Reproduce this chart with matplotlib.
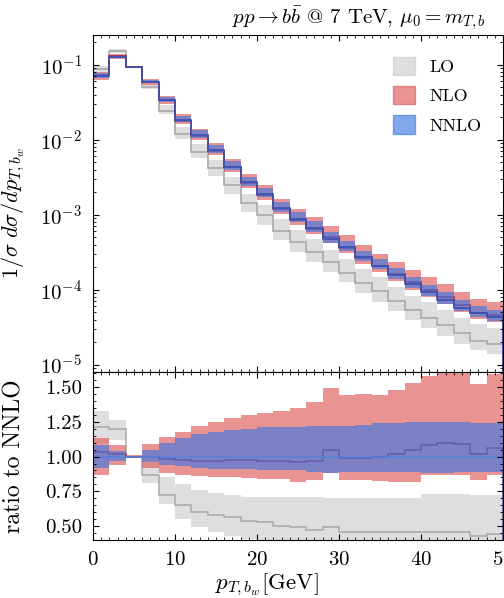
import numpy as np
import matplotlib
matplotlib.use("Agg")
import matplotlib.pyplot as plt
from matplotlib.patches import Patch
from matplotlib.ticker import MultipleLocator, LogLocator, NullFormatter

plt.rcParams['font.family'] = 'serif'
plt.rcParams['font.serif'] = ['cmr10', 'DejaVu Serif']
plt.rcParams['mathtext.fontset'] = 'cm'
plt.rcParams['axes.formatter.use_mathtext'] = True

# p_T bins of the b-jet, 2 GeV wide
edges = np.arange(0, 52, 2)

# NNLO normalised distribution 1/sigma dsigma/dpT
nnlo = [0.072, 0.128, 0.094, 0.059, 0.034, 0.0185, 0.0116, 0.0073, 0.0044,
        0.0027, 0.0019, 0.00123, 0.00089, 0.00067, 0.00048, 0.00037, 0.00027,
        0.00021, 0.000158, 0.000120, 0.000093, 0.000074, 0.000058, 0.000049,
        0.000043]

# ratios to NNLO central: central, upper, lower scale variation
lo_c = [1.21, 1.20, 1.00, 0.87, 0.72, 0.65, 0.60, 0.58, 0.565, 0.54, 0.53,
        0.50, 0.49, 0.475, 0.49, 0.46, 0.46, 0.455, 0.455, 0.455, 0.46, 0.46,
        0.455, 0.43, 0.44]
lo_hi = [1.33, 1.26, 1.005, 0.955, 0.85, 0.80, 0.76, 0.735, 0.72, 0.71, 0.71,
         0.71, 0.71, 0.71, 0.70, 0.70, 0.70, 0.70, 0.70, 0.70, 0.73, 0.73,
         0.73, 0.72, 0.72]
lo_lo = [1.10, 1.12, 0.995, 0.81, 0.66, 0.55, 0.49, 0.455, 0.43, 0.41, 0.39,
         0.37, 0.36, 0.35, 0.36, 0.34, 0.34, 0.33, 0.33, 0.33, 0.33, 0.33,
         0.33, 0.32, 0.32]

nlo_c = [1.03, 1.02, 1.00, 0.995, 0.985, 0.975, 0.97, 0.97, 0.975, 0.975,
         0.97, 0.965, 0.96, 0.97, 1.045, 0.99, 0.99, 0.995, 1.015, 1.05, 1.08,
         1.10, 1.09, 1.015, 1.065]
nlo_hi = [1.13, 1.08, 1.01, 1.09, 1.14, 1.18, 1.22, 1.25, 1.28, 1.30, 1.31,
          1.33, 1.35, 1.39, 1.49, 1.44, 1.45, 1.44, 1.48, 1.53, 1.58, 1.63,
          1.61, 1.52, 1.59]
nlo_lo = [0.87, 0.94, 0.99, 0.92, 0.88, 0.87, 0.86, 0.855, 0.85, 0.845,
          0.84, 0.835, 0.82, 0.83, 0.88, 0.83, 0.83, 0.825, 0.82, 0.82, 0.87,
          0.87, 0.87, 0.83, 0.87]

nnlo_hi = [1.08, 1.04, 1.005, 1.05, 1.10, 1.13, 1.16, 1.18, 1.19, 1.20, 1.21,
           1.21, 1.21, 1.22, 1.22, 1.22, 1.23, 1.24, 1.24, 1.25, 1.25, 1.25,
           1.25, 1.24, 1.24]
nnlo_lo = [0.92, 0.97, 0.995, 0.96, 0.94, 0.93, 0.92, 0.91, 0.91, 0.91, 0.90,
           0.90, 0.90, 0.89, 0.88, 0.89, 0.89, 0.89, 0.89, 0.89, 0.88, 0.88,
           0.89, 0.89, 0.89]

c_lo, c_nlo, c_nnlo = '#c8c8c8', '#e05a5a', '#4078e0'
a_lo, a_nlo, a_nnlo = 0.6, 0.65, 0.65
l_lo, l_nlo, l_nnlo = '#a8a8a8', '#9c2a4a', '#3a50b0'

fig = plt.figure(figsize=(5.04, 5.98), dpi=100)
ax = fig.add_axes([0.1845, 0.3784, 0.8135, 0.5631])
rax = fig.add_axes([0.1845, 0.097, 0.8135, 0.2814], sharex=ax)

ref = np.array(nnlo)
bands = [(lo_lo, lo_hi, lo_c, c_lo, a_lo, l_lo, l_lo),
         (nlo_lo, nlo_hi, nlo_c, c_nlo, a_nlo, l_nlo, l_nlo),
         (nnlo_lo, nnlo_hi, np.ones(len(ref)), c_nnlo, a_nnlo, l_nnlo, '#5a7fd8')]

for lo, hi, c, col, a, lcol, rcol in bands:
    lo, hi, c = np.array(lo), np.array(hi), np.array(c)
    # absolute distribution
    ax.stairs(hi * ref, edges, baseline=lo * ref, fill=True, color=col,
              alpha=a, lw=0)
    ax.stairs(c * ref, edges, color=lcol, lw=1.2)
    # ratio panel
    rax.stairs(hi, edges, baseline=lo, fill=True, color=col, alpha=a, lw=0)
    rax.stairs(c, edges, color=rcol, lw=1.1)

ax.set_yscale('log')
ax.set_ylim(8.1e-6, 0.25)
ax.set_xlim(0, 50)
ax.yaxis.set_major_locator(LogLocator(base=10, numticks=10))
ax.yaxis.set_minor_locator(LogLocator(base=10, subs=np.arange(2, 10), numticks=10))
ax.yaxis.set_minor_formatter(NullFormatter())
ax.tick_params(labelbottom=False)
ax.set_ylabel(r'$1/\sigma\ d\sigma/dp_{T,b_w}$', fontsize=16)
ax.yaxis.set_label_coords(-0.16, 0.47)

rax.set_ylim(0.40, 1.61)
rax.set_yticks([0.5, 0.75, 1.0, 1.25, 1.5])
rax.set_yticklabels(['0.50', '0.75', '1.00', '1.25', '1.50'])
rax.yaxis.set_minor_locator(MultipleLocator(0.05))
rax.xaxis.set_major_locator(MultipleLocator(10))
rax.xaxis.set_minor_locator(MultipleLocator(1))
rax.set_ylabel('ratio to NNLO', fontsize=17)
rax.yaxis.set_label_coords(-0.165, 0.5)
rax.set_xlabel(r'$p_{T,b_w}$[GeV]', fontsize=16.5)
rax.xaxis.set_label_coords(0.424, -0.185)

for a in (ax, rax):
    a.tick_params(which='both', direction='in', top=True, right=True,
                  labelsize=15)
    a.tick_params(which='major', length=4)
    a.tick_params(which='minor', length=2)
    a.tick_params(axis='y', which='major', pad=8)
rax.tick_params(axis='x', which='major', pad=8)

handles = [Patch(color=c_lo, alpha=a_lo, label='LO'),
           Patch(color=c_nlo, alpha=a_nlo, label='NLO'),
           Patch(color=c_nnlo, alpha=a_nnlo, label='NNLO')]
ax.legend(handles=handles, loc='upper right', frameon=False, fontsize=13,
          handlelength=1.2, handleheight=1.2, labelspacing=0.6,
          borderaxespad=0.8)

fig.text(232 / 504, 1 - 19 / 598,
         r'$pp \to b\bar{b}$ @ 7 TeV, $\mu_0 = m_{T,b}$', fontsize=15,
         ha='left', va='center')

fig.savefig('out.png', dpi=100)
